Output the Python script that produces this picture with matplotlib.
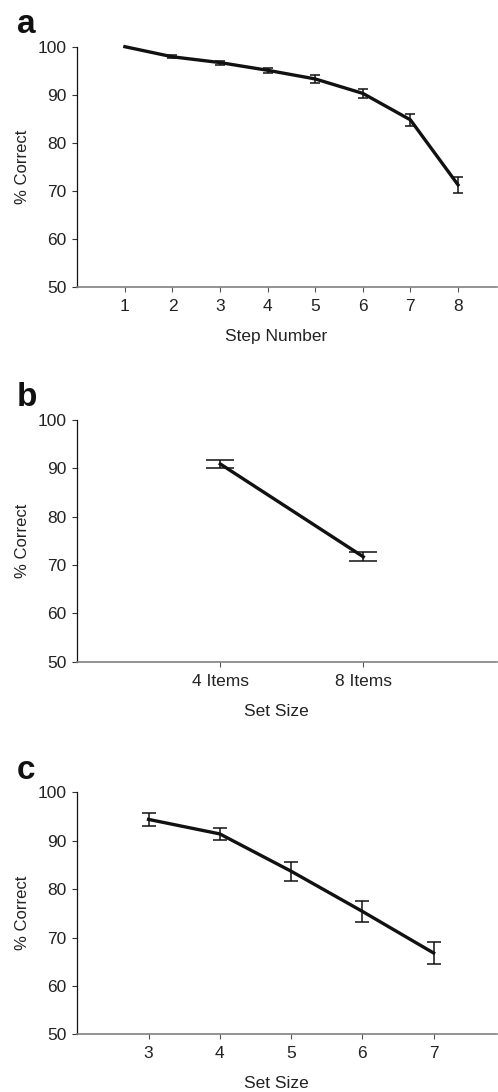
import matplotlib
matplotlib.use("Agg")
import matplotlib.pyplot as plt

plt.rcParams['font.family'] = ['Liberation Sans', 'DejaVu Sans']

# panel a
steps = [1, 2, 3, 4, 5, 6, 7, 8]
step_pct = [100.0, 97.9, 96.7, 95.1, 93.3, 90.3, 84.8, 71.3]
step_err = [0.0, 0.3, 0.4, 0.5, 0.75, 1.0, 1.25, 1.7]

# panel b
item_labels = ['4 Items', '8 Items']
item_pct = [90.9, 71.7]
item_err = [0.8, 0.9]

# panel c
set_sizes = [3, 4, 5, 6, 7]
set_pct = [94.4, 91.4, 83.7, 75.4, 66.8]
set_err = [1.27, 1.24, 2.0, 2.1, 2.2]

W, H = 498, 1092
fig = plt.figure(figsize=(W / 100, H / 100), dpi=100)

left_px, right_px = 77.3, 497.0


def make_axes(top, bottom):
    return fig.add_axes([left_px / W, 1 - bottom / H,
                         (right_px - left_px) / W, (bottom - top) / H])


def style(ax, letter, xlabel, top, bottom):
    ax.set_ylim(50, 100)
    ax.set_yticks([50, 60, 70, 80, 90, 100])
    ax.spines['top'].set_visible(False)
    ax.spines['right'].set_visible(False)
    ax.spines['left'].set_color('#111111')
    ax.spines['bottom'].set_color('#808080')
    ax.spines['left'].set_linewidth(0.9)
    ax.spines['bottom'].set_linewidth(1.2)
    ax.tick_params(axis='y', length=3.5, width=0.8, color='#333333',
                   labelsize=12.5, labelcolor='#222222', pad=4.5)
    ax.tick_params(axis='x', length=3.5, width=0.8, color='#555555',
                   labelsize=12.5, labelcolor='#222222', pad=5)
    ax.set_ylabel('% Correct', fontsize=12, color='#222222')
    ax.yaxis.set_label_coords(-47 / (right_px - left_px), 0.5)
    ax.set_xlabel(xlabel, fontsize=12.5, color='#222222')
    h = bottom - top
    ax.xaxis.set_label_coords((276 - left_px) / (right_px - left_px), -42 / h)
    fig.text(17 / W, 1 - (top - 22) / H, letter, fontsize=24, fontweight='bold',
             va='center', ha='left', color='#111111')


# a  (no error bar drawn at step 1, it is at ceiling)
top, bottom = 46.7, 287.3
ax = make_axes(top, bottom)
ax.errorbar(steps, step_pct, yerr=step_err, color='#111111', lw=2.4,
            elinewidth=1.1, capsize=3.8, capthick=1.1, clip_on=False,
            errorevery=(1, 1))
ax.set_xlim(0, 8.82)
ax.set_xticks(steps)
style(ax, 'a', 'Step Number', top, bottom)

# b
top, bottom = 420.0, 661.7
ax = make_axes(top, bottom)
ax.errorbar([1, 2], item_pct, yerr=item_err, color='#111111', lw=2.4,
            elinewidth=1.1, capsize=10, capthick=1.1)
ax.set_xlim(0, 2.935)
ax.set_xticks([1, 2])
ax.set_xticklabels(item_labels)
style(ax, 'b', 'Set Size', top, bottom)

# c
top, bottom = 792.3, 1034.3
ax = make_axes(top, bottom)
ax.errorbar(set_sizes, set_pct, yerr=set_err, color='#111111', lw=2.4,
            elinewidth=1.1, capsize=4.8, capthick=1.1)
ax.set_xlim(2, 7.89)
ax.set_xticks(set_sizes)
style(ax, 'c', 'Set Size', top, bottom)

fig.savefig('out.png', dpi=100, facecolor='white')
